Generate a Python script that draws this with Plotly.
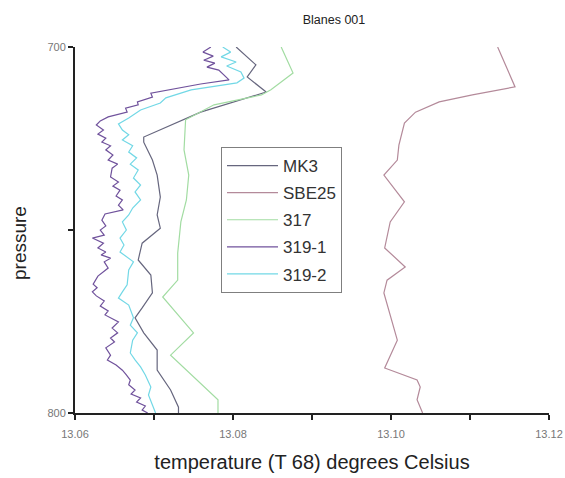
import plotly.graph_objects as go

# Temperature profiles (degrees Celsius, T68) against pressure for cast Blanes 001

mk3_p = [700.0, 704.9, 708.2, 712.3, 717.8, 724.6, 726.0, 730.9, 735.0, 741.0, 745.9,
         749.5, 753.6, 758.2, 762.3, 767.2, 771.3, 774.0, 778.1, 782.8, 788.3, 793.7,
         798.4, 800.0]
mk3_t = [13.0804, 13.0829, 13.0818, 13.0842, 13.0759, 13.0687, 13.0687, 13.0698,
         13.0704, 13.0708, 13.0704, 13.0708, 13.0685, 13.0680, 13.0696, 13.0698,
         13.0685, 13.0676, 13.0687, 13.0704, 13.0704, 13.0721, 13.0731, 13.0731]

sbe25_p = [700.0, 710.9, 713.1, 715.0, 717.8, 720.8, 726.8, 730.9, 735.0, 742.3, 747.8,
           754.9, 760.1, 763.7, 767.2, 773.2, 780.1, 787.7, 791.0, 792.9, 796.4, 800.0]
sbe25_t = [13.1135, 13.1157, 13.1103, 13.1061, 13.1031, 13.1017, 13.1010, 13.1008,
           13.0991, 13.1017, 13.0999, 13.0992, 13.1018, 13.0995, 13.0991, 13.0999,
           13.1008, 13.0992, 13.1033, 13.1037, 13.1033, 13.1040]

s317_p = [700.0, 707.1, 711.7, 713.1, 715.8, 719.9, 728.1, 735.0, 741.8, 747.8, 756.3,
          763.7, 768.3, 778.1, 784.2, 796.4, 800.0]
s317_t = [13.0861, 13.0876, 13.0848, 13.0836, 13.0776, 13.0740, 13.0738, 13.0744,
          13.0741, 13.0734, 13.0730, 13.0730, 13.0711, 13.0750, 13.0721, 13.0781, 13.0781]

s319_1_p = [700.0, 701.4, 702.5, 703.6, 704.4, 705.5, 706.3, 707.9, 709.0, 710.1, 712.6,
            713.7, 715.0, 715.8, 716.7, 717.8, 719.1, 720.2, 721.3, 722.7, 723.8, 724.9,
            726.0, 727.0, 728.1, 729.5, 730.9, 732.0, 733.1, 735.5, 736.9, 738.0, 739.1,
            740.7, 741.8, 743.2, 744.5, 745.6, 747.3, 748.9, 750.0, 751.4, 752.2, 753.6,
            754.9, 756.0, 756.8, 757.7, 758.7, 760.4, 762.6, 764.8, 765.8, 766.9, 768.0,
            769.4, 770.8, 772.1, 773.2, 775.1, 776.8, 778.1, 779.5, 780.6, 782.2, 784.2,
            785.5, 786.9, 788.3, 789.6, 791.0, 792.3, 793.7, 794.8, 795.9, 797.0, 798.1,
            799.2, 800.0]
s319_1_t = [13.0772, 13.0762, 13.0775, 13.0763, 13.0777, 13.0767, 13.0782, 13.0790,
            13.0795, 13.0759, 13.0696, 13.0698, 13.0679, 13.0680, 13.0664, 13.0666,
            13.0642, 13.0632, 13.0627, 13.0636, 13.0629, 13.0639, 13.0634, 13.0645,
            13.0639, 13.0648, 13.0642, 13.0654, 13.0647, 13.0645, 13.0655, 13.0648,
            13.0657, 13.0652, 13.0660, 13.0655, 13.0661, 13.0638, 13.0634, 13.0639,
            13.0632, 13.0637, 13.0622, 13.0636, 13.0629, 13.0639, 13.0633, 13.0645,
            13.0637, 13.0642, 13.0629, 13.0623, 13.0628, 13.0622, 13.0627, 13.0637,
            13.0632, 13.0642, 13.0638, 13.0655, 13.0647, 13.0654, 13.0645, 13.0650,
            13.0639, 13.0645, 13.0641, 13.0652, 13.0660, 13.0665, 13.0670, 13.0668,
            13.0676, 13.0671, 13.0683, 13.0678, 13.0689, 13.0685, 13.0692]

s319_2_p = [700.0, 701.4, 702.7, 704.1, 705.2, 706.8, 708.5, 709.8, 711.7, 713.9, 715.3,
            717.2, 719.4, 721.0, 722.7, 724.0, 725.4, 727.0, 728.7, 730.3, 732.0, 733.6,
            735.8, 737.7, 739.6, 741.8, 744.0, 745.9, 747.8, 750.0, 752.2, 754.1, 756.0,
            758.7, 760.9, 765.0, 766.9, 768.6, 770.5, 774.0, 776.0, 778.1, 780.1, 783.6,
            785.5, 787.4, 789.6, 792.9, 795.1, 798.4, 800.0]
s319_2_t = [13.0787, 13.0797, 13.0785, 13.0804, 13.0792, 13.0810, 13.0814, 13.0805,
            13.0747, 13.0715, 13.0708, 13.0683, 13.0668, 13.0655, 13.0660, 13.0668,
            13.0660, 13.0673, 13.0668, 13.0678, 13.0670, 13.0680, 13.0674, 13.0683,
            13.0676, 13.0683, 13.0673, 13.0668, 13.0660, 13.0665, 13.0657, 13.0662,
            13.0657, 13.0674, 13.0668, 13.0666, 13.0660, 13.0655, 13.0668, 13.0674,
            13.0670, 13.0679, 13.0673, 13.0670, 13.0676, 13.0683, 13.0689, 13.0696,
            13.0693, 13.0699, 13.0702]

x_major = [13.06, 13.08, 13.10, 13.12]
x_minor = [13.07, 13.09, 13.11]
x_labels = ["13.06", "13.08", "13.10", "13.12"]
y_ticks = [700, 750, 800]
y_labels = ["700", "", "800"]

series = [
    ("MK3", mk3_t, mk3_p, "#66667e"),
    ("SBE25", sbe25_t, sbe25_p, "#b48a9a"),
    ("317", s317_t, s317_p, "#a2dca2"),
    ("319-1", s319_1_t, s319_1_p, "#70529c"),
    ("319-2", s319_2_t, s319_2_p, "#72d8e6"),
]

fig = go.Figure()
for name, t, p, col in series:
    fig.add_trace(go.Scatter(
        x=t, y=p, mode="lines", name=name, legendgroup=name,
        line=dict(color=col, width=1.2),
    ))

font_family = "Liberation Sans, Arial, sans-serif"

fig.update_layout(
    width=565, height=478, autosize=False,
    margin=dict(l=75, r=16, t=47, b=65),
    paper_bgcolor="white", plot_bgcolor="white",
    font=dict(family=font_family, color="#222"),
    title=dict(text="Blanes 001", x=334 / 565, xanchor="center",
               y=1 - 20 / 478, yanchor="middle", font=dict(size=12.5, color="#222")),
    legend=dict(x=(221 - 75) / 474, y=(413 - 147) / 366, xanchor="left", yanchor="top",
                bordercolor="#7f7f7f", borderwidth=1, bgcolor="white",
                font=dict(size=17, color="#333"), tracegroupgap=2, itemwidth=51),
    showlegend=True,
    annotations=[dict(text="pressure", textangle=-90, xref="paper", yref="paper",
                      x=-55 / 474, y=(413 - 243) / 366, xanchor="center", yanchor="middle",
                      showarrow=False, font=dict(size=19, color="#222"))],
)
fig.update_xaxes(
    range=[13.06, 13.12], tickvals=x_major, ticktext=x_labels, automargin=False,
    ticks="outside", ticklen=5, tickwidth=1.5, tickcolor="#222", ticklabelstandoff=5,
    minor=dict(tickvals=x_minor, ticks="outside", ticklen=5, tickwidth=1.5, tickcolor="#222"),
    showline=True, linecolor="#222", linewidth=2, showgrid=False, zeroline=False,
    tickfont=dict(size=11, color="#777"),
    title=dict(text="temperature (T 68) degrees Celsius", font=dict(size=20, color="#222"),
               standoff=16),
)
fig.update_yaxes(
    range=[800, 700], tickvals=y_ticks, ticktext=y_labels, automargin=False,
    ticks="outside", ticklen=5, tickwidth=1.5, tickcolor="#222",
    showline=True, linecolor="#222", linewidth=2, showgrid=False, zeroline=False,
    tickfont=dict(size=11, color="#777"),
)

fig.write_html("out.html")
